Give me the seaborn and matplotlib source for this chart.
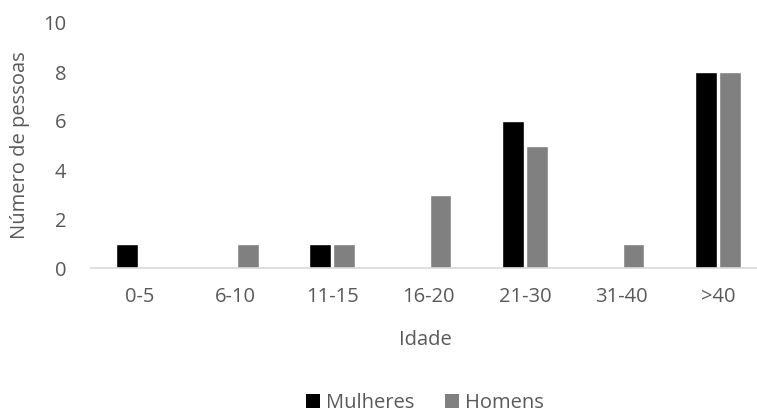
import matplotlib
matplotlib.use("Agg")
import matplotlib.pyplot as plt
import seaborn as sns
import pandas as pd
from matplotlib.patches import Patch

categories = ["0-5", "6-10", "11-15", "16-20", "21-30", "31-40", ">40"]
mulheres = [1, 0, 1, 0, 6, 0, 8]
homens = [0, 1, 1, 3, 5, 1, 8]
series_names = ["Mulheres", "Homens"]
yticks = [0, 2, 4, 6, 8, 10]

df = pd.DataFrame({
    "Idade": categories * 2,
    "valor": mulheres + homens,
    "serie": [series_names[0]] * len(categories) + [series_names[1]] * len(categories),
})

sns.set_theme(style="white")
plt.rcParams["font.family"] = ["Open Sans", "DejaVu Sans"]
txt = "#595959"
colors = {"Mulheres": "#000000", "Homens": "#808080"}
fs = 14.5

fig = plt.figure(figsize=(7.57, 4.16), dpi=100)
W, H = 757, 416
ax = fig.add_axes([91 / W, 1 - 268 / H, (766 - 91) / W, (268 - 23) / H])

sns.barplot(data=df, x="Idade", y="valor", hue="serie", order=categories,
            hue_order=series_names, palette=colors, width=0.5, gap=0.1,
            ax=ax, legend=False, saturation=1)

ax.set_ylim(0, 10)
ax.set_yticks(yticks)
ax.set_xlim(-0.5, len(categories) - 0.5)
for s in ["top", "right", "left"]:
    ax.spines[s].set_visible(False)
ax.spines["bottom"].set_color("#d9d9d9")
ax.spines["bottom"].set_linewidth(1.2)
ax.tick_params(axis="both", length=0, labelsize=fs, colors=txt)
ax.tick_params(axis="y", pad=18)
ax.tick_params(axis="x", pad=14)
ax.set_xlabel("Idade", fontsize=fs, color=txt)
ax.xaxis.set_label_coords((425 - 91) / (766 - 91), -(340 - 268) / (268 - 23))
ax.set_ylabel("Número de pessoas", fontsize=fs, color=txt)
ax.yaxis.set_label_coords(-(91 - 20) / (766 - 91), 0.5)
ax.yaxis.label.set_verticalalignment("center")
ax.xaxis.label.set_verticalalignment("center")

handles = [Patch(facecolor=colors[n], edgecolor="none", label=n) for n in series_names]
fig.legend(handles=handles, loc="center", bbox_to_anchor=(425 / W, 1 - 403 / H),
           ncol=2, frameon=False, fontsize=fs, labelcolor=txt,
           handlelength=0.7, handleheight=0.7, handletextpad=0.3, columnspacing=1.5,
           borderpad=0.1)

fig.savefig("out.png", dpi=100)
